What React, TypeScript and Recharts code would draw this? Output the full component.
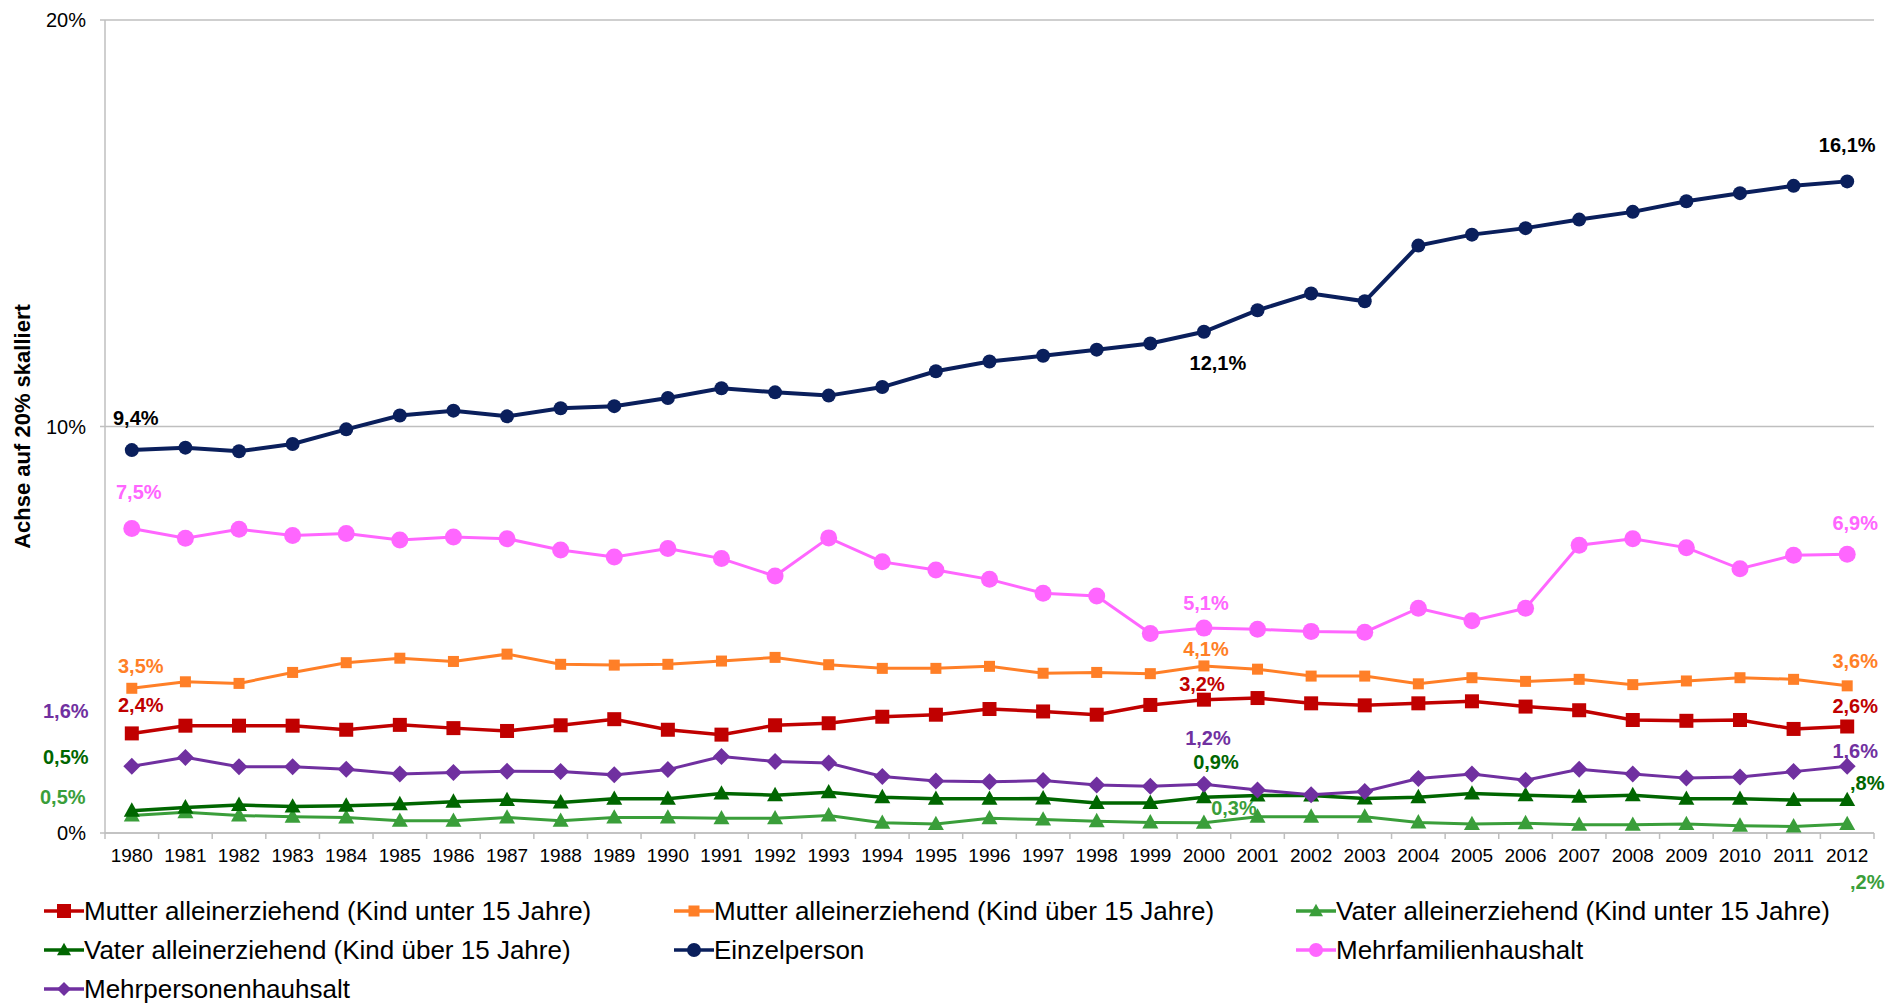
import React from 'react';
import { LineChart, Line, XAxis, YAxis, CartesianGrid, LabelList } from 'recharts';

const years = [
  '1980', '1981', '1982', '1983', '1984', '1985', '1986', '1987', '1988', '1989', '1990',
  '1991', '1992', '1993', '1994', '1995', '1996', '1997', '1998', '1999', '2000', '2001',
  '2002', '2003', '2004', '2005', '2006', '2007', '2008', '2009', '2010', '2011', '2012',
];

const mutterUnter15 = [2.45, 2.64, 2.64, 2.64, 2.54, 2.66, 2.58, 2.51, 2.65, 2.8, 2.54, 2.42, 2.65, 2.7, 2.86, 2.91, 3.05, 2.99, 2.91, 3.15, 3.28, 3.32, 3.19, 3.14, 3.19, 3.24, 3.11, 3.02, 2.78, 2.76, 2.78, 2.56, 2.62];
const mutterUeber15 = [3.56, 3.72, 3.68, 3.95, 4.19, 4.3, 4.22, 4.4, 4.15, 4.13, 4.15, 4.23, 4.32, 4.14, 4.05, 4.05, 4.1, 3.93, 3.95, 3.92, 4.11, 4.03, 3.86, 3.86, 3.67, 3.82, 3.73, 3.78, 3.65, 3.74, 3.82, 3.78, 3.62];
const vaterUnter15 = [0.43, 0.51, 0.43, 0.4, 0.38, 0.3, 0.3, 0.38, 0.3, 0.38, 0.38, 0.36, 0.36, 0.43, 0.25, 0.22, 0.36, 0.33, 0.29, 0.26, 0.25, 0.4, 0.4, 0.4, 0.26, 0.22, 0.24, 0.2, 0.2, 0.22, 0.18, 0.16, 0.22];
const vaterUeber15 = [0.55, 0.63, 0.69, 0.65, 0.67, 0.71, 0.77, 0.81, 0.75, 0.84, 0.84, 0.97, 0.93, 1.0, 0.88, 0.84, 0.84, 0.85, 0.74, 0.74, 0.88, 0.92, 0.92, 0.85, 0.88, 0.97, 0.93, 0.89, 0.93, 0.84, 0.84, 0.81, 0.81];
const einzelperson = [9.42, 9.48, 9.39, 9.57, 9.93, 10.27, 10.39, 10.25, 10.45, 10.5, 10.7, 10.94, 10.84, 10.76, 10.97, 11.36, 11.6, 11.74, 11.89, 12.04, 12.33, 12.86, 13.27, 13.08, 14.45, 14.72, 14.88, 15.09, 15.28, 15.54, 15.74, 15.92, 16.03];
const mehrfamilien = [7.49, 7.25, 7.47, 7.32, 7.37, 7.21, 7.28, 7.24, 6.96, 6.79, 7.0, 6.75, 6.32, 7.26, 6.67, 6.47, 6.24, 5.9, 5.83, 4.91, 5.04, 5.01, 4.96, 4.94, 5.53, 5.22, 5.53, 7.08, 7.24, 7.02, 6.5, 6.83, 6.86];
const mehrpersonen = [1.64, 1.86, 1.63, 1.63, 1.57, 1.45, 1.49, 1.52, 1.51, 1.43, 1.56, 1.88, 1.76, 1.72, 1.39, 1.28, 1.26, 1.29, 1.18, 1.15, 1.2, 1.06, 0.94, 1.02, 1.34, 1.45, 1.3, 1.57, 1.45, 1.35, 1.38, 1.51, 1.64];

const yTicks = [0, 10, 20];

// data labels: point index, text, offset of the label centre from the point
type Lbl = { i: number; text: string; dx: number; dy: number };
const lblMutterUnter15: Lbl[] = [
  { i: 0, text: '2,4%', dx: 9, dy: -28 },
  { i: 20, text: '3,2%', dx: -2, dy: -16 },
  { i: 32, text: '2,6%', dx: 8, dy: -20 },
];
const lblMutterUeber15: Lbl[] = [
  { i: 0, text: '3,5%', dx: 9, dy: -22 },
  { i: 20, text: '4,1%', dx: 2, dy: -17 },
  { i: 32, text: '3,6%', dx: 8, dy: -25 },
];
const lblVaterUnter15: Lbl[] = [
  { i: 0, text: '0,5%', dx: -69, dy: -19 },
  { i: 20, text: '0,3%', dx: 30, dy: -15 },
  { i: 32, text: ',2%', dx: 20, dy: 58 },
];
const lblVaterUeber15: Lbl[] = [
  { i: 0, text: '0,5%', dx: -66, dy: -54 },
  { i: 20, text: '0,9%', dx: 12, dy: -35 },
  { i: 32, text: ',8%', dx: 20, dy: -17 },
];
const lblEinzel: Lbl[] = [
  { i: 0, text: '9,4%', dx: 4, dy: -32 },
  { i: 20, text: '12,1%', dx: 14, dy: 31 },
  { i: 32, text: '16,1%', dx: 0, dy: -36 },
];
const lblMehrfam: Lbl[] = [
  { i: 0, text: '7,5%', dx: 7, dy: -37 },
  { i: 20, text: '5,1%', dx: 2, dy: -25 },
  { i: 32, text: '6,9%', dx: 8, dy: -31 },
];
const lblMehrpers: Lbl[] = [
  { i: 0, text: '1,6%', dx: -66, dy: -55 },
  { i: 20, text: '1,2%', dx: 4, dy: -46 },
  { i: 32, text: '1,6%', dx: 8, dy: -15 },
];

type Shape = 'square' | 'triangle' | 'circle' | 'diamond';
type Series = {
  key: string; name: string; color: string; labelColor: string; values: number[];
  shape: Shape; size: number; width: number; labels: Lbl[];
};

const series: Series[] = [
  { key: 'mu15', name: 'Mutter alleinerziehend (Kind unter 15 Jahre)', color: '#C00000', labelColor: '#C00000', values: mutterUnter15, shape: 'square', size: 14, width: 3.5, labels: lblMutterUnter15 },
  { key: 'mo15', name: 'Mutter alleinerziehend (Kind über 15 Jahre)', color: '#FF7F27', labelColor: '#FF7F27', values: mutterUeber15, shape: 'square', size: 11, width: 3, labels: lblMutterUeber15 },
  { key: 'vu15', name: 'Vater alleinerziehend (Kind unter 15 Jahre)', color: '#3A9E3A', labelColor: '#3A9E3A', values: vaterUnter15, shape: 'triangle', size: 16, width: 3, labels: lblVaterUnter15 },
  { key: 'vo15', name: 'Vater alleinerziehend (Kind über 15 Jahre)', color: '#006600', labelColor: '#006600', values: vaterUeber15, shape: 'triangle', size: 16, width: 3.5, labels: lblVaterUeber15 },
  { key: 'einz', name: 'Einzelperson', color: '#0A1F5C', labelColor: '#000000', values: einzelperson, shape: 'circle', size: 14, width: 4, labels: lblEinzel },
  { key: 'mfam', name: 'Mehrfamilienhaushalt', color: '#FF66FF', labelColor: '#FF66FF', values: mehrfamilien, shape: 'circle', size: 17, width: 3, labels: lblMehrfam },
  { key: 'mpers', name: 'Mehrpersonenhauhsalt', color: '#7030A0', labelColor: '#7030A0', values: mehrpersonen, shape: 'diamond', size: 17, width: 3, labels: lblMehrpers },
];

const data = years.map((year, i) => {
  const row: Record<string, string | number> = { year };
  series.forEach(s => { row[s.key] = s.values[i]; });
  return row;
});

const W = 1899;
const H = 1003;
const PLOT_LEFT = 105;
const PLOT_RIGHT = 1874;
const PLOT_TOP = 20;
const PLOT_BOTTOM = 833;
const X_AXIS_H = 40;
const BAND = (PLOT_RIGHT - PLOT_LEFT) / years.length;
const FONT = '"Liberation Sans", Arial, sans-serif';
const GRID = '#BFBFBF';

function Marker({ shape, cx, cy, size, color }: { shape: Shape; cx: number; cy: number; size: number; color: string }) {
  const h = size / 2;
  if (shape === 'square') return <rect x={cx - h} y={cy - h} width={size} height={size} fill={color} />;
  if (shape === 'circle') return <circle cx={cx} cy={cy} r={h} fill={color} />;
  if (shape === 'diamond')
    return <polygon points={`${cx},${cy - h} ${cx + h},${cy} ${cx},${cy + h} ${cx - h},${cy}`} fill={color} />;
  return <polygon points={`${cx},${cy - h * 1.05} ${cx + h},${cy + h * 0.75} ${cx - h},${cy + h * 0.75}`} fill={color} />;
}

function XTick(props: any) {
  const { x, y, payload, index } = props;
  return (
    <g>
      <line x1={x - BAND / 2} x2={x - BAND / 2} y1={y} y2={y + 6} stroke={GRID} strokeWidth={1.5} />
      {index === years.length - 1 && (
        <line x1={x + BAND / 2} x2={x + BAND / 2} y1={y} y2={y + 6} stroke={GRID} strokeWidth={1.5} />
      )}
      <text x={x} y={y + 22} textAnchor="middle" dominantBaseline="central" fontSize={19} fontFamily={FONT} fill="#000">
        {payload.value}
      </text>
    </g>
  );
}

function makeLabel(s: Series) {
  return (p: any) => {
    const l = s.labels.find(item => item.i === p.index);
    if (!l) return null;
    return (
      <text key={`${s.key}-l-${p.index}`} x={p.x + l.dx} y={p.y + l.dy} textAnchor="middle" dominantBaseline="central"
        fontSize={20} fontWeight="bold" fontFamily={FONT} fill={s.labelColor}>
        {l.text}
      </text>
    );
  };
}

const legendCols = [44, 674, 1296];
const legendRows = [911, 950, 989];

function LegendBlock() {
  return (
    <>
      {series.map((s, i) => {
        const left = legendCols[i % 3];
        const top = legendRows[Math.floor(i / 3)];
        return (
          <div key={s.key} style={{ position: 'absolute', left, top: top - 17, height: 34, display: 'flex', alignItems: 'center' }}>
            <svg width={40} height={34} style={{ marginRight: 0 }}>
              <line x1={0} x2={40} y1={17} y2={17} stroke={s.color} strokeWidth={3.5} />
              <Marker shape={s.shape} cx={20} cy={17} size={Math.min(s.size, 14)} color={s.color} />
            </svg>
            <span style={{ fontFamily: FONT, fontSize: 26, color: '#000', whiteSpace: 'nowrap' }}>{s.name}</span>
          </div>
        );
      })}
    </>
  );
}

export default function App() {
  return (
    <div style={{ position: 'absolute', left: 0, top: 0, width: W, height: H, background: '#fff' }}>
      <LineChart
        width={W}
        height={H}
        data={data}
        margin={{ top: PLOT_TOP, right: W - PLOT_RIGHT, left: 0, bottom: H - PLOT_BOTTOM - X_AXIS_H }}
      >
        <CartesianGrid horizontal vertical={false} stroke={GRID} strokeWidth={1.5} />
        <XAxis
          dataKey="year"
          interval={0}
          height={X_AXIS_H}
          padding={{ left: BAND / 2, right: BAND / 2 }}
          axisLine={{ stroke: GRID, strokeWidth: 1.5 }}
          tickLine={false}
          tickSize={0}
          tickMargin={0}
          tick={<XTick />}
        />
        <YAxis
          width={PLOT_LEFT}
          domain={[0, 20]}
          ticks={yTicks}
          interval={0}
          tickFormatter={(v: number) => `${v}%`}
          axisLine={{ stroke: GRID, strokeWidth: 1.5 }}
          tickLine={{ stroke: GRID, strokeWidth: 1.5 }}
          tickSize={5}
          tickMargin={14}
          tick={{ fill: '#000', fontSize: 20, fontFamily: FONT }}
          label={() => (
            <text x={22} y={(PLOT_TOP + PLOT_BOTTOM) / 2} transform={`rotate(-90 22 ${(PLOT_TOP + PLOT_BOTTOM) / 2})`}
              textAnchor="middle" dominantBaseline="central" fontSize={22} fontWeight="bold" fontFamily={FONT} fill="#000">
              Achse auf 20%  skalliert
            </text>
          )}
        />
        {series.map(s => (
          <Line
            key={s.key}
            dataKey={s.key}
            name={s.name}
            stroke={s.color}
            strokeWidth={s.width}
            type="linear"
            isAnimationActive={false}
            dot={(p: any) => <Marker key={`${s.key}-d-${p.index}`} shape={s.shape} cx={p.cx} cy={p.cy} size={s.size} color={s.color} />}
            activeDot={false}
          >
            <LabelList dataKey={s.key} content={makeLabel(s)} />
          </Line>
        ))}
      </LineChart>
      <LegendBlock />
    </div>
  );
}
